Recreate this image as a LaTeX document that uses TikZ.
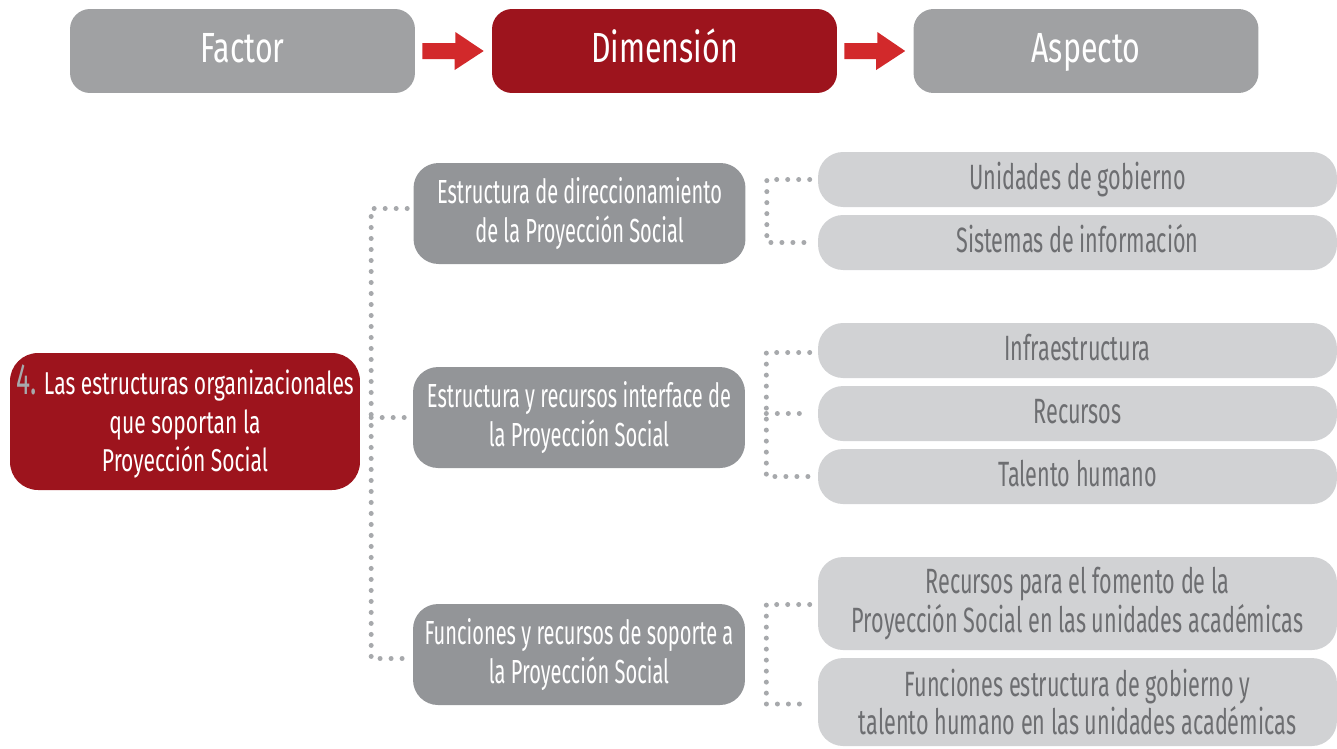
\documentclass[tikz,border=0pt]{standalone}
\usepackage{fontspec}
\setmainfont{Fira Sans}[FakeStretch=0.72]
\newfontfamily\narrowfont{Fira Sans}[FakeStretch=0.665]
\newfontfamily\midfont{Fira Sans}[FakeStretch=0.6]
\newfontfamily\leaffont{Fira Sans}[FakeStretch=0.615]
\usepackage{tikz}
\usepackage{xcolor}
\usetikzlibrary{arrows.meta}

\definecolor{darkred}{HTML}{9D141D}
\definecolor{arrowred}{HTML}{D2292B}
\definecolor{midgray}{HTML}{939598}
\definecolor{headgray}{HTML}{A0A1A3}
\definecolor{lightgray}{HTML}{D1D2D4}
\definecolor{textgray}{HTML}{6D6E71}
\definecolor{dotgray}{HTML}{A7A9AC}

\begin{document}
\begin{tikzpicture}[x=0.02cm, y=-0.02cm,
	oneline/.style={text height=14.5pt, text depth=3.5pt},
	head/.style={shape=rectangle, rounded corners=0.4cm, minimum width=6.9cm, minimum height=1.68cm, text=white, font=\fontsize{24}{28}\selectfont, text height=17pt, text depth=4pt},
	mid/.style={shape=rectangle, rounded corners=0.5cm, fill=midgray, inner xsep=1pt, minimum width=6.64cm, minimum height=2.02cm, text=white, align=center, font=\midfont\fontsize{19}{22}\selectfont},
	leaf/.style={shape=rectangle, rounded corners=0.5cm, fill=lightgray, inner xsep=1pt, minimum width=10.38cm, minimum height=1.1cm, text=textgray, align=center, font=\leaffont\fontsize{20}{22}\selectfont},
	dots/.style={draw=dotgray, line width=0.1cm, line cap=round, dash pattern=on 0pt off 0.22cm}]
	\useasboundingbox (0, 0) rectangle (1337, 748);
	% header
	\node [head, fill=headgray] (0) at (242.5, 51) {Factor};
	\node [head, fill=darkred] (1) at (664.5, 51) {Dimensión};
	\node [head, fill=headgray] (2) at (1086, 51) {Aspecto};
	\fill [arrowred] ([shift={(7,-8)}]0.east) -- ++(33, 0) -- ++(0, -11) -- ([shift={(-8,0)}]1.west) -- ++(-29, 19) -- ++(0, -11) -- ([shift={(7,8)}]0.east) -- cycle;
	\fill [arrowred] ([shift={(7,-8)}]1.east) -- ++(33, 0) -- ++(0, -11) -- ([shift={(-8,0)}]2.west) -- ++(-29, 19) -- ++(0, -11) -- ([shift={(7,8)}]1.east) -- cycle;
	% factor
	\node [shape=rectangle, rounded corners=0.56cm, fill=darkred, inner xsep=1pt, minimum width=7cm, minimum height=2.74cm, text=white, align=center, font=\narrowfont\fontsize{18}{22}\selectfont] (3) at (185, 421.5) {{\color{dotgray}\midfont\fontsize{25}{22}\selectfont 4.} Las estructuras organizacionales\\que soportan la\\Proyección Social};
	% dimensions
	\node [mid] (4) at (579.5, 213.5) {Estructura de direccionamiento\\de la Proyección Social};
	\node [mid] (5) at (579, 417.5) {Estructura y recursos interface de\\la Proyección Social};
	\node [mid] (6) at (579, 654.5) {Funciones y recursos de soporte a\\la Proyección Social};
	% aspects
	\node [leaf, oneline] (7) at (1077.5, 179.5) {Unidades de gobierno};
	\node [leaf, oneline] (8) at (1077.5, 242.5) {Sistemas de información};
	\node [leaf, oneline] (9) at (1077.5, 350.5) {Infraestructura};
	\node [leaf, oneline] (10) at (1077.5, 413.5) {Recursos};
	\node [leaf, oneline] (11) at (1077.5, 476.5) {Talento humano};
	\node [leaf, minimum height=1.86cm] (12) at (1077.5, 603.5) {Recursos para el fomento de la\\Proyección Social en las unidades académicas};
	\node [leaf, minimum height=1.76cm] (13) at (1077.5, 702) {Funciones estructura de gobierno y\\talento humano en las unidades académicas};
	% dotted links
	\coordinate (b0) at ([shift={(-42,0)}]4.west);
	\coordinate (b1) at ([shift={(21,0)}]4.east);
	\coordinate (b2) at ([shift={(21,0)}]5.east);
	\coordinate (b3) at ([shift={(21,0)}]6.east);
	\draw [dots] ([shift={(-6,-5)}]4.west) -- ([shift={(0,-5)}]4.west -| b0) -- ([shift={(0,4)}]6.west -| b0) -- ([shift={(-6,4)}]6.west);
	\draw [dots] (5.west -| b0) -- ([shift={(-6,0)}]5.west);
	\draw [dots] ([shift={(-8,0)}]7.west) -- (7.west -| b1) -- (8.west -| b1) -- ([shift={(-8,0)}]8.west);
	\draw [dots] ([shift={(-8,2)}]9.west) -- ([shift={(0,2)}]9.west -| b2) -- (11.west -| b2) -- ([shift={(-8,0)}]11.west);
	\draw [dots] (10.west -| b2) -- ([shift={(-8,0)}]10.west);
	\draw [dots] ([shift={(-8,1)}]12.west) -- ([shift={(0,1)}]12.west -| b3) -- ([shift={(0,2)}]13.west -| b3) -- ([shift={(-8,2)}]13.west);
\end{tikzpicture}
\end{document}
